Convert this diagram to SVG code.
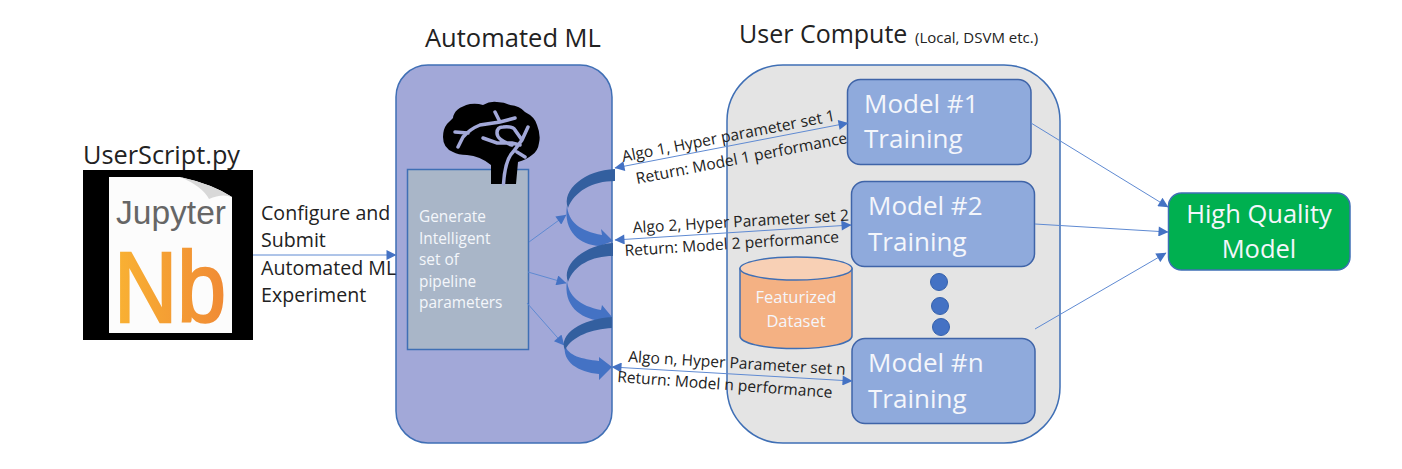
<svg xmlns="http://www.w3.org/2000/svg" width="1402" height="469" viewBox="0 0 1402 469">
<style>
text{font-family:"Open Sans","Noto Sans",sans-serif;fill:#222}
.w{fill:#f4f6fb}
.box{fill:#8faadc;stroke:#3f64a8;stroke-width:1.500}
.c{fill:none;stroke:#5f8ad2;stroke-width:1}
.t{font-size:15.400px}
.a{font-size:15.600px}
.l{font-size:19.600px}
.m{font-size:26px}
.dot{fill:#4472c4;stroke:#3561ac}
.dk{fill:#335f9f}
.md{fill:#4472c4}
</style>
<defs>
<marker id="a" viewBox="0 0 10 10" refX="9.500" refY="5" markerWidth="11" markerHeight="10" markerUnits="userSpaceOnUse" orient="auto-start-reverse"><path d="M0 0L10 5L0 10Z" fill="#4472c4"/></marker>
<linearGradient id="nb" x1="0" y1="0" x2="1" y2="0"><stop offset="0" stop-color="#f9b233"/><stop offset="1" stop-color="#f08a35"/></linearGradient>
</defs>
<g id="automl">
<rect x="396" y="65" width="216" height="378" rx="32" fill="#a2a8d8" stroke="#3f6fb5" stroke-width="1.500"/>
<text x="425" y="47" font-size="25.500">Automated ML</text>
</g>
<g id="compute">
<rect x="727" y="65" width="333" height="378" rx="56" fill="#e4e4e4" stroke="#3f6fb5" stroke-width="1.500"/>
<text x="739" y="43" font-size="25">User Compute</text>
<text x="915" y="43" font-size="15">(Local, DSVM etc.)</text>
</g>
<g id="notebook">
<text x="83" y="164" font-size="25.300">UserScript.py</text>
<rect x="83" y="170" width="170" height="170" fill="#000"/>
<path d="M109 177H180Q212 184 232 197V333H109Z" fill="#fcfcfc"/>
<path d="M180 177Q212 184 232 197Q222 193 209 199Q202 186 180 177Z" fill="#d8d8d8"/>
<text x="116" y="224" font-size="33" style="fill:#666;font-family:'Liberation Sans',sans-serif" textLength="110" lengthAdjust="spacingAndGlyphs">Jupyter</text>
<text x="114" y="322" font-size="100" style="fill:url(#nb);stroke:url(#nb);stroke-width:2.500px;font-family:'Liberation Sans',sans-serif" textLength="112" lengthAdjust="spacingAndGlyphs">Nb</text>
</g>
<g id="params">
<rect x="407.500" y="169.500" width="121" height="180" fill="#a9b6c8" stroke="#3f6fb5" stroke-width="1.500"/>
<text class="t w" x="419" y="222">Generate</text>
<text class="t w" x="419" y="244">Intelligent</text>
<text class="t w" x="419" y="265">set of</text>
<text class="t w" x="419" y="287">pipeline</text>
<text class="t w" x="419" y="308">parameters</text>
</g>
<g id="brain">
<path d="M491 184V165Q480 156 467 155Q458 155 453 152Q443 148 443 137Q443 129 447 124Q451 120 453 118Q454 108 470 104Q477 103 483 105Q490 101 497 102Q504 102 510 105Q520 106 525 112Q535 117 537 125Q541 135 539 143Q538 151 532 155Q526 160 518 162L516 184H505L503 184H501L491 184Z" fill="#000"/>
<path d="M455 132L468 133M458 147L463 137Q470 129 480 125L500 122L515 118M495 112L500 122M512 145Q497 140 497 133Q497 127 503 127Q513 126 515 130L522 140M528 127L522 140L513 152Q505 160 503.500 184M483 138L497 143H512L520 145M517 152L525 157" fill="none" stroke="#a2a8d8" stroke-width="3.500" stroke-linecap="round"/>
</g>
<g id="model1"><rect class="box" x="847.500" y="79.500" width="183.500" height="85" rx="13"/><text class="m w" x="864" y="113">Model #1</text><text class="m w" x="864" y="148">Training</text></g>
<g id="model2"><rect class="box" x="851.500" y="181.500" width="183" height="85" rx="13"/><text class="m w" x="868" y="215">Model #2</text><text class="m w" x="868" y="251">Training</text></g>
<g id="modeln"><rect class="box" x="852" y="338.500" width="183" height="85" rx="13"/><text class="m w" x="868" y="372">Model #n</text><text class="m w" x="868" y="408">Training</text></g>
<g id="dots"><circle class="dot" cx="939" cy="282" r="8.500"/><circle class="dot" cx="940" cy="306" r="8.500"/><circle class="dot" cx="941" cy="327" r="8.500"/></g>
<g id="dataset">
<path d="M740 268.500V336C740 343 762 348.500 796 348.500C830 348.500 852 343 852 336V268.500Z" fill="#f4b183" stroke="#3f6fb5" stroke-width="1.500"/>
<ellipse cx="796" cy="268.500" rx="56" ry="11.500" fill="#f8d0b5" stroke="#3f6fb5" stroke-width="1.500"/>
<text x="796" y="303" font-size="16.500" class="w" text-anchor="middle">Featurized</text>
<text x="796" y="327" font-size="16.500" class="w" text-anchor="middle">Dataset</text>
</g>
<g id="hq"><rect x="1168.500" y="193" width="181.500" height="77" rx="13" fill="#00b050" stroke="#3f6fb5" stroke-width="1.500"/><text x="1259" y="223" font-size="25.500" class="w" text-anchor="middle">High Quality</text><text x="1259" y="258" font-size="25.500" class="w" text-anchor="middle">Model</text></g>
<g id="connectors">
<path class="c" d="M253 255H396" marker-end="url(#a)"/>
<path class="c" d="M529 242L566 215" marker-end="url(#a)"/>
<path class="c" d="M528 272L566 283" marker-end="url(#a)"/>
<path class="c" d="M527 303L564 345" marker-end="url(#a)"/>
<path class="c" d="M615 168L848 123" marker-start="url(#a)" marker-end="url(#a)"/>
<path class="c" d="M615 240L851 225" marker-start="url(#a)" marker-end="url(#a)"/>
<path class="c" d="M612 367L852 381" marker-start="url(#a)" marker-end="url(#a)"/>
<path class="c" d="M1031 123L1168 207" marker-end="url(#a)"/>
<path class="c" d="M1035 224L1168 232" marker-end="url(#a)"/>
<path class="c" d="M1035 329L1166 253" marker-end="url(#a)"/>
<path class="md" d="M567 205C568 222 580 231 602 235L601 229L613 241L600 246C580 245 563 232 567 205Z"/>
<path class="dk" d="M615 169V181C592 181 574 192 568 208C561 190 585 170 615 169Z"/>
<path class="md" d="M567 280C568 296 580 306 601 310L602 305L612 317L600 321C580 318 563 306 567 280Z"/>
<path class="dk" d="M613 243V256C592 256 574 265 568 282C561 264 585 245 613 243Z"/>
<path class="md" d="M565 345C568 356 582 359 599 361V357L612 367L599 380V374C578 372 562 362 565 345Z"/>
<path class="dk" d="M612 317V328C592 329 572 336 565 350C558 334 582 319 612 317Z"/>
</g>
<g id="labels">
<text class="l" x="261" y="220">Configure and</text>
<text class="l" x="261" y="247">Submit</text>
<text class="l" x="261" y="275">Automated ML</text>
<text class="l" x="261" y="302">Experiment</text>
<text class="a" transform="translate(623 162) rotate(-11)">Algo 1, Hyper parameter set 1</text>
<text class="a" transform="translate(637 184) rotate(-11)">Return: Model 1 performance</text>
<text class="a" transform="translate(633 233) rotate(-3.300)">Algo 2, Hyper Parameter set 2</text>
<text class="a" transform="translate(625 256) rotate(-3.700)">Return: Model 2 performance</text>
<text class="a" transform="translate(628 362) rotate(3.400)">Algo n, Hyper Parameter set n</text>
<text class="a" transform="translate(617 382) rotate(4.200)">Return: Model n performance</text>
</g>
</svg>
